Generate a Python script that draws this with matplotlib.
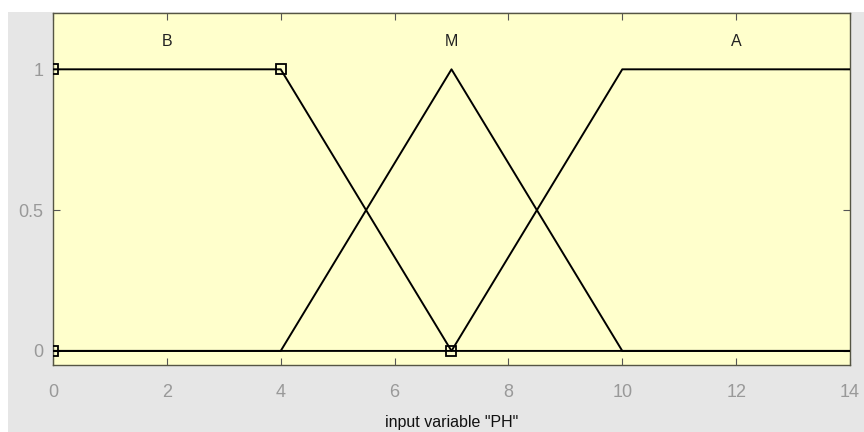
import matplotlib
matplotlib.use("Agg")
import matplotlib.pyplot as plt
from matplotlib.patches import Rectangle
import numpy as np

# Membership functions of the input variable "PH"
x_range = [0, 14]
mf_names = ["B", "M", "A"]
mf_x = [[0, 4, 7, 14], [0, 4, 7, 10, 14], [0, 7, 10, 14]]
mf_y = [[1, 1, 0, 0], [0, 0, 1, 0, 0], [0, 0, 1, 1]]
label_x = [2, 7, 12]
selected = 0  # highlighted membership function (vertices drawn as squares)
sel_vx = [0, 0, 4, 7]
sel_vy = [0, 1, 1, 0]

x_ticks = [0, 2, 4, 6, 8, 10, 12, 14]
y_ticks = [0, 0.5, 1]
y_ticklabels = ["0", "0.5", "1"]

fig = plt.figure(figsize=(8.64, 4.32), dpi=100, facecolor="white")
fig.patches.append(Rectangle((8 / 864, 0), 1, 1 - 12 / 432, transform=fig.transFigure,
                             facecolor="#e6e6e6", edgecolor="none", zorder=-10))

ax = fig.add_axes([53 / 864, 67 / 432, 797 / 864, 352 / 432])
ax.set_facecolor("#ffffcc")

for xs, ys in zip(mf_x, mf_y):
    ax.plot(xs, ys, color="black", lw=1.4, zorder=3)

ax.plot(sel_vx, sel_vy, linestyle="none", marker="s", markersize=6.5,
        markerfacecolor="none", markeredgecolor="black", markeredgewidth=1.3, zorder=4)

for name, lx in zip(mf_names, label_x):
    ax.text(lx, 1.1, name, ha="center", va="center", fontsize=11.5,
            family="Liberation Sans", color="#222222")

ax.set_xlim(x_range)
ax.set_ylim(-0.05, 1.2)
ax.set_xticks(x_ticks)
ax.set_xticklabels([str(t) for t in x_ticks])
ax.set_yticks(y_ticks)
ax.set_yticklabels(y_ticklabels)
ax.tick_params(direction="in", length=5, width=0.8, color="#555555",
               top=True, right=True, labelsize=13, labelcolor="#999999")
ax.tick_params(axis="x", pad=14)
ax.tick_params(axis="y", pad=7)
for lab in ax.get_xticklabels() + ax.get_yticklabels():
    lab.set_family("Liberation Sans")
    lab.set_stretch("condensed")
for s in ax.spines.values():
    s.set_color("#555544")
    s.set_linewidth(1.0)

ax.set_xlabel('input variable "PH"', fontsize=11.5, family="Liberation Sans",
              color="#111111", labelpad=10)

fig.savefig("out.png", dpi=100, facecolor=fig.get_facecolor())
